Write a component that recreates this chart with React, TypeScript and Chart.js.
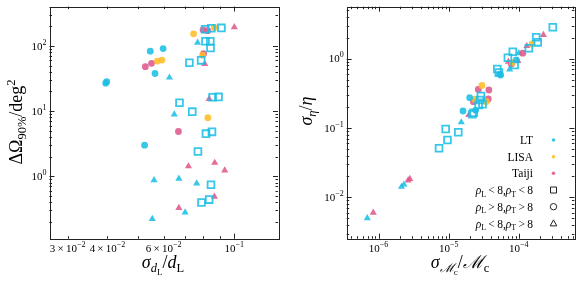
import React, { useEffect, useRef } from 'react';
import { Chart, registerables } from 'chart.js';
Chart.register(...registerables);

const SERIF = '"Liberation Serif", "Times New Roman", "DejaVu Serif", serif';

const CYAN = 'rgba(28,190,230,0.88)';
const YELLOW = 'rgba(255,188,40,0.88)';
const PINK = 'rgba(222,88,140,0.88)';

type P = [number, number];

// ---------- Left panel: x = sigma_dL/dL, y = ΔΩ90% [deg²] ----------
const leftLTSquare: P[] = [[0.081, 180], [0.0847, 187], [0.0911, 189], [0.0812, 118], [0.0841, 118], [0.0842, 93], [0.0723, 55], [0.0787, 60], [0.0673, 13.4], [0.0855, 16.3], [0.0892, 16.5], [0.0738, 9.8], [0.0815, 4.5], [0.0851, 4.8], [0.0769, 2.39], [0.0845, 0.74], [0.0789, 0.395], [0.0834, 0.438]];
const leftLTCircle: P[] = [[0.0395, 26.8], [0.0398, 28.2], [0.0545, 83], [0.0598, 91], [0.0564, 37.7], [0.0523, 3.0]];
const leftLTTriangle: P[] = [[0.0767, 112], [0.0626, 32.7], [0.0648, 8.9], [0.056, 0.87], [0.067, 0.92], [0.0762, 0.775], [0.0701, 0.278], [0.0553, 0.221]];
const leftLISACircle: P[] = [[0.0745, 153], [0.0866, 192], [0.0795, 72], [0.0574, 58.6], [0.0593, 60.7], [0.0826, 7.9]];
const leftTaijiCircle: P[] = [[0.0798, 176], [0.0825, 171], [0.0801, 76], [0.0526, 48], [0.055, 54], [0.0668, 4.86]];
const leftTaijiTriangle: P[] = [[0.1, 194], [0.0808, 53], [0.0834, 15.4], [0.0718, 1.42], [0.0868, 1.61], [0.0933, 1.23], [0.0866, 0.487], [0.067, 0.327]];

// ---------- Right panel: x = sigma_Mc/Mc, y = sigma_eta/eta ----------
const rightLTSquare: P[] = [[3.05e-4, 2.84], [1.77e-4, 2.04], [1.86e-4, 1.72], [1.39e-4, 1.41], [8.2e-5, 1.26], [6.98e-5, 1.03], [8.7e-5, 0.81], [4.93e-5, 0.71], [5.2e-5, 0.63], [2.88e-5, 0.29], [2.8e-5, 0.254], [2.67e-5, 0.215], [3.03e-5, 0.22], [2.27e-5, 0.166], [2.18e-5, 0.158], [9.06e-6, 0.0968], [1.37e-5, 0.0867], [9.6e-6, 0.067], [7.28e-6, 0.051]];
const rightLTCircle: P[] = [[9.2e-5, 0.96], [5.3e-5, 0.6], [5.5e-5, 0.58], [1.99e-5, 0.274], [2.42e-5, 0.18], [1.6e-5, 0.176]];
const rightLTTriangle: P[] = [[7.4e-5, 0.7], [1.0e-4, 1.2], [1.51e-5, 0.121], [2.12e-6, 0.0142], [2.3e-6, 0.0153], [6.9e-7, 0.005]];
const rightLISACircle: P[] = [[1.55e-4, 1.63], [8.1e-5, 0.875], [2.98e-5, 0.41], [2.34e-5, 0.26], [3.44e-5, 0.24]];
const rightTaijiCircle: P[] = [[1.14e-4, 1.2], [7.8e-5, 0.84], [2.64e-5, 0.36], [3.74e-5, 0.353], [3.67e-5, 0.262], [2.25e-5, 0.24]];
const rightTaijiTriangle: P[] = [[2.24e-4, 2.2], [1.3e-4, 1.52], [7.1e-5, 0.905], [9.7e-5, 0.93], [1.93e-5, 0.154], [2.79e-6, 0.0184], [2.64e-6, 0.0175], [8.4e-7, 0.006]];

// tick labels (value, mantissa, exponent)
const leftXTickLabels: [number, string, string][] = [[0.03, '3\u2009×\u200910', '−2'], [0.04, '4\u2009×\u200910', '−2'], [0.06, '6\u2009×\u200910', '−2'], [0.1, '10', '−1']];
const leftYTickLabels: [number, string, string][] = [[1, '10', '0'], [10, '10', '1'], [100, '10', '2']];
const rightXTickLabels: [number, string, string][] = [[1e-6, '10', '−6'], [1e-5, '10', '−5'], [1e-4, '10', '−4']];
const rightYTickLabels: [number, string, string][] = [[0.01, '10', '−2'], [0.1, '10', '−1'], [1, '10', '0']];

const legendSeries = ['LT', 'LISA', 'Taiji'];
const legendColors = [CYAN, YELLOW, PINK];
const legendSnr: [string, string, string][] = [['<', '<', 'rect'], ['>', '>', 'circle'], ['<', '>', 'triangle']];

type Seg = { t: string; size: number; italic?: boolean; dy?: number };
const fontOf = (s: Seg) => `${s.italic ? 'italic ' : ''}${s.size}px ${SERIF}`;

function drawMath(ctx: CanvasRenderingContext2D, segs: Seg[], x: number, y: number, align: 'left' | 'center' | 'right') {
  ctx.save();
  ctx.textBaseline = 'alphabetic';
  ctx.textAlign = 'left';
  ctx.fillStyle = '#000';
  let w = 0;
  const ws = segs.map((s) => {
    ctx.font = fontOf(s);
    const m = ctx.measureText(s.t).width;
    w += m;
    return m;
  });
  let cx = align === 'left' ? x : align === 'center' ? x - w / 2 : x - w;
  segs.forEach((s, i) => {
    ctx.font = fontOf(s);
    ctx.fillText(s.t, cx, y + (s.dy || 0));
    cx += ws[i];
  });
  ctx.restore();
}

function logTicks(min: number, max: number) {
  const out: { v: number; major: boolean }[] = [];
  for (let e = Math.floor(Math.log10(min)) - 1; e <= Math.ceil(Math.log10(max)); e++) {
    for (let m = 1; m < 10; m++) {
      const v = m * Math.pow(10, e);
      if (v >= min * 0.9999 && v <= max * 1.0001) out.push({ v, major: m === 1 });
    }
  }
  return out;
}

const tickSegs = (m: string, e: string): Seg[] => [
  { t: m, size: 11 },
  { t: e, size: 8, dy: -4.8 },
];

type Spec = {
  xLabels: [number, string, string][];
  yLabels: [number, string, string][];
  xTitle: Seg[];
  yTitle: Seg[];
  xTitlePos: [number, number];
  yTitlePos: [number, number];
  legend?: boolean;
};

function makeDecor(spec: Spec) {
  return {
    id: 'decor',
    afterDatasetsDraw(chart: any) {
      const ctx: CanvasRenderingContext2D = chart.ctx;
      const a = chart.chartArea;
      const xs = chart.scales.x;
      const ys = chart.scales.y;
      ctx.save();
      ctx.strokeStyle = '#222';
      ctx.lineWidth = 1;
      ctx.strokeRect(Math.round(a.left) + 0.5, Math.round(a.top) + 0.5, Math.round(a.right - a.left), Math.round(a.bottom - a.top));
      ctx.beginPath();
      for (const t of logTicks(xs.min, xs.max)) {
        const p = Math.round(xs.getPixelForValue(t.v)) + 0.5;
        const L = t.major ? 5 : 2.5;
        ctx.moveTo(p, a.bottom);
        ctx.lineTo(p, a.bottom - L);
        ctx.moveTo(p, a.top);
        ctx.lineTo(p, a.top + L);
      }
      for (const t of logTicks(ys.min, ys.max)) {
        const p = Math.round(ys.getPixelForValue(t.v)) + 0.5;
        const L = t.major ? 5 : 2.5;
        ctx.moveTo(a.left, p);
        ctx.lineTo(a.left + L, p);
        ctx.moveTo(a.right, p);
        ctx.lineTo(a.right - L, p);
      }
      ctx.stroke();
      ctx.restore();

      for (const [v, m, e] of spec.xLabels) {
        drawMath(ctx, tickSegs(m, e), xs.getPixelForValue(v), a.bottom + 13, 'center');
      }
      for (const [v, m, e] of spec.yLabels) {
        drawMath(ctx, tickSegs(m, e), a.left - 3, ys.getPixelForValue(v) + 3.6, 'right');
      }
      drawMath(ctx, spec.xTitle, spec.xTitlePos[0], spec.xTitlePos[1], 'center');
      ctx.save();
      ctx.translate(spec.yTitlePos[0], spec.yTitlePos[1]);
      ctx.rotate(-Math.PI / 2);
      drawMath(ctx, spec.yTitle, 0, 0, 'center');
      ctx.restore();

      if (spec.legend) {
        const tx = 243;
        const mx = 263.5;
        const rows = [140, 156.7, 173.3, 190, 206.7, 223.5];
        legendSeries.forEach((name, i) => {
          drawMath(ctx, [{ t: name, size: 11.5 }], tx, rows[i] + 4, 'right');
          ctx.save();
          ctx.fillStyle = legendColors[i];
          ctx.beginPath();
          ctx.arc(mx, rows[i], 1.8, 0, Math.PI * 2);
          ctx.fill();
          ctx.restore();
        });
        legendSnr.forEach(([s1, s2, shape], j) => {
          const y = rows[3 + j];
          drawMath(
            ctx,
            [
              { t: 'ρ', size: 11.5, italic: true },
              { t: 'L', size: 8, dy: 2.5 },
              { t: '\u2009' + s1 + '\u20098,', size: 11.5 },
              { t: 'ρ', size: 11.5, italic: true },
              { t: 'T', size: 8, dy: 2.5 },
              { t: '\u2009' + s2 + '\u20098', size: 11.5 },
            ],
            tx,
            y + 4,
            'right'
          );
          ctx.save();
          ctx.strokeStyle = '#222';
          ctx.lineWidth = 1;
          ctx.beginPath();
          if (shape === 'rect') ctx.rect(mx - 3, y - 3, 6, 6);
          else if (shape === 'circle') ctx.arc(mx, y, 3.2, 0, Math.PI * 2);
          else {
            ctx.moveTo(mx, y - 3.6);
            ctx.lineTo(mx + 3.3, y + 2.4);
            ctx.lineTo(mx - 3.3, y + 2.4);
            ctx.closePath();
          }
          ctx.stroke();
          ctx.restore();
        });
      }
    },
  };
}

function ds(label: string, data: P[], shape: string, color: string) {
  const isRect = shape === 'rect';
  return {
    label,
    data: data.map(([x, y]) => ({ x, y })),
    pointStyle: shape,
    pointRadius: isRect ? 4.8 : shape === 'triangle' ? 4.1 : 3.4,
    pointBorderWidth: isRect ? 1.8 : 0,
    pointBackgroundColor: isRect ? 'rgba(255,255,255,0)' : color,
    pointBorderColor: color,
    showLine: false,
  };
}

function makeConfig(
  datasets: any[],
  xr: [number, number],
  yr: [number, number],
  yWidth: number,
  pad: { top: number; right: number },
  spec: Spec
): any {
  return {
    type: 'scatter',
    data: { datasets },
    options: {
      animation: false,
      responsive: false,
      devicePixelRatio: 1,
      events: [],
      layout: { padding: { left: 0, right: pad.right, top: pad.top, bottom: 0 } },
      plugins: { legend: { display: false }, tooltip: { enabled: false } },
      scales: {
        x: {
          type: 'logarithmic',
          min: xr[0],
          max: xr[1],
          ticks: { display: false },
          grid: { display: false },
          border: { display: false },
          afterFit: (s: any) => {
            s.height = 42.3;
          },
        },
        y: {
          type: 'logarithmic',
          min: yr[0],
          max: yr[1],
          ticks: { display: false },
          grid: { display: false },
          border: { display: false },
          afterFit: (s: any) => {
            s.width = yWidth;
          },
        },
      },
    },
    plugins: [makeDecor(spec)],
  };
}

export default function App() {
  const leftRef = useRef<HTMLCanvasElement>(null);
  const rightRef = useRef<HTMLCanvasElement>(null);

  useEffect(() => {
    const left = new Chart(
      leftRef.current as HTMLCanvasElement,
      makeConfig(
        [
          ds('LT ρL<8,ρT<8', leftLTSquare, 'rect', CYAN),
          ds('LT ρL>8,ρT>8', leftLTCircle, 'circle', CYAN),
          ds('LISA ρL>8,ρT>8', leftLISACircle, 'circle', YELLOW),
          ds('Taiji ρL>8,ρT>8', leftTaijiCircle, 'circle', PINK),
          ds('LT ρL<8,ρT>8', leftLTTriangle, 'triangle', CYAN),
          ds('Taiji ρL<8,ρT>8', leftTaijiTriangle, 'triangle', PINK),
        ],
        [0.02632, 0.1371],
        [0.11, 401],
        49.5,
        { top: 4.7, right: 12 },
        {
          xLabels: leftXTickLabels,
          yLabels: leftYTickLabels,
          xTitle: [
            { t: 'σ', size: 18, italic: true },
            { t: 'd', size: 12.5, italic: true, dy: 4 },
            { t: 'L', size: 9, dy: 6.5 },
            { t: '/', size: 18 },
            { t: 'd', size: 18, italic: true },
            { t: 'L', size: 12.5, dy: 4 },
          ],
          yTitle: [
            { t: 'ΔΩ', size: 18 },
            { t: '90%', size: 12.5, dy: 4 },
            { t: '/deg', size: 18 },
            { t: '2', size: 12.5, dy: -7 },
          ],
          xTitlePos: [163, 268],
          yTitlePos: [22, 122],
        }
      )
    );
    const right = new Chart(
      rightRef.current as HTMLCanvasElement,
      makeConfig(
        [
          ds('LT ρL<8,ρT<8', rightLTSquare, 'rect', CYAN),
          ds('LT ρL>8,ρT>8', rightLTCircle, 'circle', CYAN),
          ds('LISA ρL>8,ρT>8', rightLISACircle, 'circle', YELLOW),
          ds('Taiji ρL>8,ρT>8', rightTaijiCircle, 'circle', PINK),
          ds('LT ρL<8,ρT>8', rightLTTriangle, 'triangle', CYAN),
          ds('Taiji ρL<8,ρT>8', rightTaijiTriangle, 'triangle', PINK),
        ],
        [3.51e-7, 6.2e-4],
        [2.53e-3, 5.62],
        56.7,
        { top: 6.7, right: 6 },
        {
          xLabels: rightXTickLabels,
          yLabels: rightYTickLabels,
          xTitle: [
            { t: 'σ', size: 18, italic: true },
            { t: 'ℳ', size: 12.5, italic: true, dy: 4 },
            { t: 'c', size: 9, dy: 6.5 },
            { t: '/', size: 18 },
            { t: 'ℳ', size: 18, italic: true },
            { t: 'c', size: 12.5, dy: 4 },
          ],
          yTitle: [
            { t: 'σ', size: 18, italic: true },
            { t: 'η', size: 12.5, italic: true, dy: 4 },
            { t: '/', size: 18 },
            { t: 'η', size: 18, italic: true },
          ],
          xTitlePos: [170, 268],
          yTitlePos: [22, 111],
          legend: true,
        }
      )
    );
    return () => {
      left.destroy();
      right.destroy();
    };
  }, []);

  return (
    <div style={{ position: 'absolute', left: 0, top: 0, width: 581, height: 281, background: '#fff' }}>
      <canvas ref={leftRef} width={290} height={281} style={{ position: 'absolute', left: 0, top: 0, width: 290, height: 281 }} />
      <canvas ref={rightRef} width={291} height={281} style={{ position: 'absolute', left: 290, top: 0, width: 291, height: 281 }} />
    </div>
  );
}
